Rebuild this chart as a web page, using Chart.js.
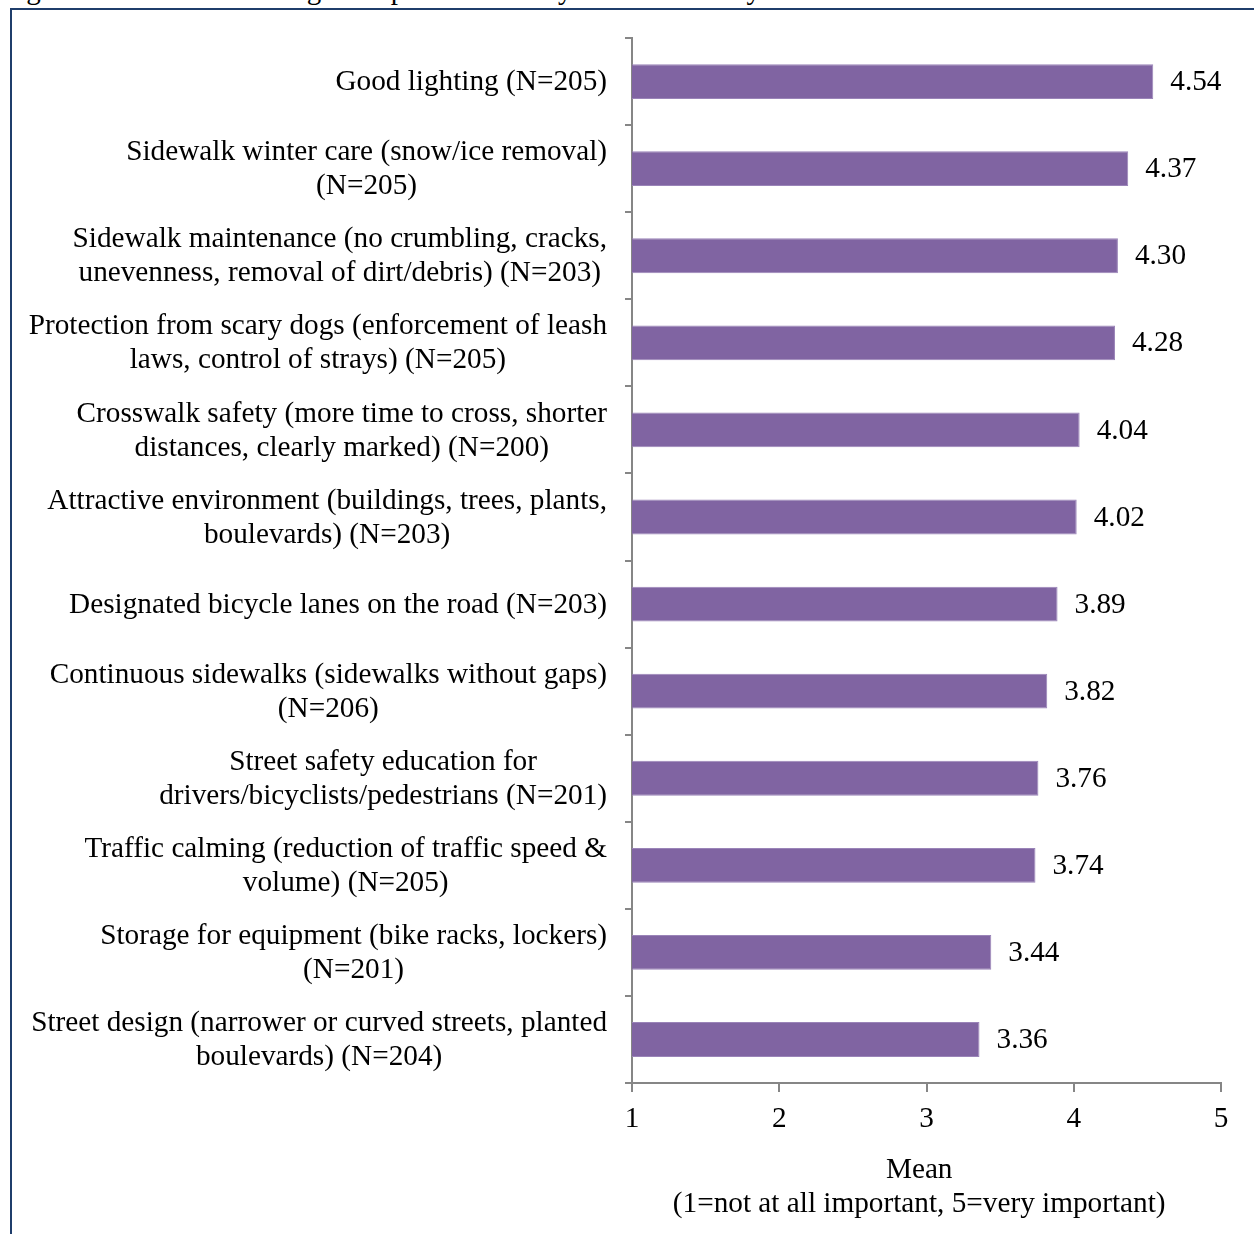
<!DOCTYPE html>
<html>
<head>
<meta charset="utf-8">
<script src="https://cdn.jsdelivr.net/npm/chart.js@4/dist/chart.umd.min.js"></script>
<style>
  html, body { margin: 0; padding: 0; background: #fff; }
  body { width: 1254px; height: 1234px; position: relative; overflow: hidden; }
  #caption {
    position: absolute; left: 2px; top: -27px;
    font: 29px "Liberation Serif", "Times New Roman", serif; color: #000; white-space: nowrap;
  }
  #frame {
    position: absolute; left: 10px; top: 8px; width: 1260px; height: 1240px;
    border-left: 2px solid #1f3d6b; border-top: 2px solid #1f3d6b;
  }
  #wrap { position: absolute; left: 0; top: 0; width: 1254px; height: 1234px; }
</style>
</head>
<body>
<div id="caption">Figure 13. Residents' rating of importance of city and community items</div>
<div id="frame"></div>
<div id="wrap"><canvas id="chart" width="1254" height="1234"></canvas></div>
<script>
// ── Data ──────────────────────────────────────────────────
const categories = [
  ['Good lighting (N=205)'],
  ['Sidewalk winter care (snow/ice removal)', '(N=205)'],
  ['Sidewalk maintenance (no crumbling, cracks,', 'unevenness, removal of dirt/debris) (N=203)'],
  ['Protection from scary dogs (enforcement of leash', 'laws, control of strays) (N=205)'],
  ['Crosswalk safety (more time to cross, shorter', 'distances, clearly marked) (N=200)'],
  ['Attractive environment (buildings, trees, plants,', 'boulevards) (N=203)'],
  ['Designated bicycle lanes on the road (N=203)'],
  ['Continuous sidewalks (sidewalks without gaps)', '(N=206)'],
  ['Street safety education for', 'drivers/bicyclists/pedestrians (N=201)'],
  ['Traffic calming (reduction of traffic speed &', 'volume) (N=205)'],
  ['Storage for equipment (bike racks, lockers)', '(N=201)'],
  ['Street design (narrower or curved streets, planted', 'boulevards) (N=204)']
];
const means = [4.54, 4.37, 4.30, 4.28, 4.04, 4.02, 3.89, 3.82, 3.76, 3.74, 3.44, 3.36];
const xTicks = [1, 2, 3, 4, 5];
const xTitle = ['Mean\u00a0\u00a0', '(1=not at all important, 5=very important)\u00a0\u00a0'];

const FONT = '"Liberation Serif", "Times New Roman", serif';
const SIZE = 29.25;
const LINE = 34;
const AXIS = '#868686';

// value labels to the right of each bar
const valueLabels = {
  id: 'valueLabels',
  afterDatasetsDraw(chart) {
    const { ctx } = chart;
    const meta = chart.getDatasetMeta(0);
    ctx.save();
    ctx.font = SIZE + 'px ' + FONT;
    ctx.fillStyle = '#000';
    ctx.textAlign = 'left';
    ctx.textBaseline = 'middle';
    meta.data.forEach((bar, i) => {
      ctx.fillText(means[i].toFixed(2), bar.x + 17, bar.y + 1);
    });
    ctx.restore();
  }
};

// category labels: block right-aligned to the axis, lines centred within the block
const categoryLabels = {
  id: 'categoryLabels',
  afterDraw(chart) {
    const { ctx } = chart;
    const scale = chart.scales.y;
    const right = scale.right - 25;
    ctx.save();
    ctx.font = SIZE + 'px ' + FONT;
    ctx.fillStyle = '#000';
    ctx.textAlign = 'center';
    ctx.textBaseline = 'middle';
    categories.forEach((lines, i) => {
      const w = Math.max(...lines.map(l => ctx.measureText(l).width));
      const cx = right - w / 2;
      const y0 = scale.getPixelForValue(i) - (lines.length - 1) * LINE / 2 + 1;
      lines.forEach((l, j) => ctx.fillText(l, cx, y0 + j * LINE));
    });
    ctx.restore();
  }
};

new Chart(document.getElementById('chart'), {
  type: 'bar',
  data: {
    labels: categories,
    datasets: [{
      data: means,
      backgroundColor: '#8064a2',
      borderColor: '#9a84b8',
      borderWidth: 1,
      barPercentage: 0.4,
      categoryPercentage: 1
    }]
  },
  options: {
    indexAxis: 'y',
    responsive: false,
    animation: false,
    devicePixelRatio: 1,
    layout: { padding: { top: 38, right: 33, bottom: 0, left: 0 } },
    plugins: { legend: { display: false }, tooltip: { enabled: false } },
    scales: {
      x: {
        min: 1,
        max: 5,
        afterBuildTicks: (scale) => { scale.ticks = xTicks.map(v => ({ value: v })); },
        afterFit: (scale) => { scale.height = 151; },
        grid: { drawOnChartArea: false, drawTicks: true, tickLength: 9, color: AXIS, lineWidth: 2 },
        border: { color: AXIS, width: 2 },
        ticks: { color: '#000', font: { family: FONT, size: SIZE }, padding: 10 },
        title: {
          display: true,
          text: xTitle,
          color: '#000',
          font: { family: FONT, size: SIZE, lineHeight: LINE / SIZE },
          padding: { top: 0, bottom: 13 }
        }
      },
      y: {
        offset: true,
        afterFit: (scale) => { scale.width = 632; },
        grid: { offset: true, drawOnChartArea: false, drawTicks: true, tickLength: 7, color: AXIS, lineWidth: 2 },
        border: { color: AXIS, width: 2 },
        ticks: { display: false, autoSkip: false }
      }
    }
  },
  plugins: [valueLabels, categoryLabels]
});
</script>
</body>
</html>
